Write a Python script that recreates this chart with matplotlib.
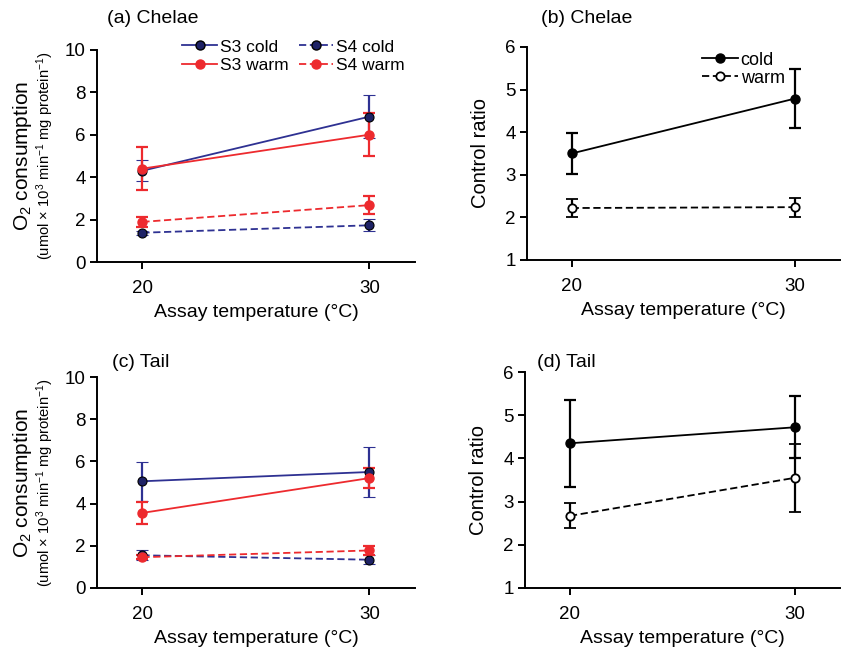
import matplotlib
matplotlib.use("Agg")
import matplotlib.pyplot as plt
from matplotlib.lines import Line2D

plt.rcParams['font.family'] = ['Liberation Sans', 'DejaVu Sans']
plt.rcParams['mathtext.fontset'] = 'custom'
plt.rcParams['mathtext.rm'] = 'Liberation Sans'
plt.rcParams['mathtext.default'] = 'regular'

# data
temps = [20, 30]

# (a) chelae O2 consumption
chel_s3_cold = [4.3, 6.85]
chel_s3_cold_err = [0.5, 1.0]
chel_s3_warm = [4.4, 6.0]
chel_s3_warm_err = [1.0, 1.02]
chel_s4_cold = [1.38, 1.73]
chel_s4_cold_err = [0.1, 0.28]
chel_s4_warm = [1.89, 2.68]
chel_s4_warm_err = [0.24, 0.42]

# (b) chelae control ratio
chel_rcr_cold = [3.5, 4.79]
chel_rcr_cold_err = [0.49, 0.7]
chel_rcr_warm = [2.22, 2.24]
chel_rcr_warm_err = [0.22, 0.22]

# (c) tail O2 consumption
tail_s3_cold = [5.06, 5.5]
tail_s3_cold_err = [0.92, 1.2]
tail_s3_warm = [3.56, 5.21]
tail_s3_warm_err = [0.53, 0.48]
tail_s4_cold = [1.55, 1.34]
tail_s4_cold_err = [0.24, 0.22]
tail_s4_warm = [1.46, 1.78]
tail_s4_warm_err = [0.1, 0.2]

# (d) tail control ratio
tail_rcr_cold = [4.35, 4.72]
tail_rcr_cold_err = [1.01, 0.72]
tail_rcr_warm = [2.67, 3.55]
tail_rcr_warm_err = [0.29, 0.79]

blue = '#2e3192'
red = '#ed2a2e'
dash = (0, (4, 2))


def style(ax, ylim, yticks):
    ax.set_xlim(18, 32)
    ax.set_ylim(*ylim)
    ax.set_xticks(temps)
    ax.set_yticks(yticks)
    for s in ['top', 'right']:
        ax.spines[s].set_visible(False)
    for s in ['left', 'bottom']:
        ax.spines[s].set_linewidth(1.4)
    ax.tick_params(direction='out', length=5, width=1.4, labelsize=13.5, pad=3)
    ax.tick_params(axis='x', pad=8)
    ax.set_xlabel('Assay temperature (°C)', fontsize=14, labelpad=5)


def o2_panel(ax, s3c, s3ce, s3w, s3we, s4c, s4ce, s4w, s4we):
    kw = dict(capsize=4, capthick=1.6, elinewidth=1.6, lw=1.3, ms=6.5)
    ax.errorbar(temps, s3c, yerr=s3ce, color=blue, marker='o', mfc='#1e2266', mec='black', mew=0.8, **kw)
    ax.errorbar(temps, s4c, yerr=s4ce, color=blue, marker='o', mfc='#1e2266', mec='black', mew=0.8, ls=dash, **kw)
    ax.errorbar(temps, s3w, yerr=s3we, color=red, marker='o', mfc=red, mec=red, **kw)
    ax.errorbar(temps, s4w, yerr=s4we, color=red, marker='o', mfc=red, mec=red, ls=dash, **kw)
    style(ax, (0, 10), [0, 2, 4, 6, 8, 10])
    ax.text(-0.234, 0.5, 'O$_2$ consumption', rotation=90, fontsize=15,
            transform=ax.transAxes, ha='center', va='center')
    ax.text(-0.163, 0.5, r'(umol $\times$ 10$^3$ min$^{-1}$ mg protein$^{-1}$)', rotation=90,
            fontsize=10.6, transform=ax.transAxes, ha='center', va='center')


def rcr_panel(ax, cold, cold_err, warm, warm_err):
    kw = dict(capsize=4, capthick=1.6, elinewidth=1.6, lw=1.3, color='black')
    ax.errorbar(temps, cold, yerr=cold_err, marker='o', ms=6.5, mfc='black', **kw)
    ax.errorbar(temps, warm, yerr=warm_err, marker='o', ms=6, mfc='white', mew=1.3, ls=dash, **kw)
    style(ax, (1, 6), [1, 2, 3, 4, 5, 6])
    ax.set_ylabel('Control ratio', fontsize=14.5, labelpad=11)


fig = plt.figure(figsize=(8.41, 6.49), dpi=100)
ax_a = fig.add_axes([0.1153, 0.5963, 0.378, 0.327])
ax_b = fig.add_axes([0.6266, 0.5994, 0.372, 0.3282])
ax_c = fig.add_axes([0.1153, 0.094, 0.378, 0.325])
ax_d = fig.add_axes([0.6243, 0.094, 0.374, 0.3328])

o2_panel(ax_a, chel_s3_cold, chel_s3_cold_err, chel_s3_warm, chel_s3_warm_err,
         chel_s4_cold, chel_s4_cold_err, chel_s4_warm, chel_s4_warm_err)
o2_panel(ax_c, tail_s3_cold, tail_s3_cold_err, tail_s3_warm, tail_s3_warm_err,
         tail_s4_cold, tail_s4_cold_err, tail_s4_warm, tail_s4_warm_err)
rcr_panel(ax_b, chel_rcr_cold, chel_rcr_cold_err, chel_rcr_warm, chel_rcr_warm_err)
rcr_panel(ax_d, tail_rcr_cold, tail_rcr_cold_err, tail_rcr_warm, tail_rcr_warm_err)

fig.text(0.127, 0.972, '(a) Chelae', fontsize=14, va='center')
fig.text(0.643, 0.972, '(b) Chelae', fontsize=14, va='center')
fig.text(0.133, 0.441, '(c) Tail', fontsize=14, va='center')
fig.text(0.638, 0.441, '(d) Tail', fontsize=14, va='center')

h_o2 = [
    Line2D([], [], color=blue, marker='o', mfc='#1e2266', mec='black', ms=6.5, lw=1.3),
    Line2D([], [], color=red, marker='o', mfc=red, mec=red, ms=6.5, lw=1.3),
    Line2D([], [], color=blue, marker='o', mfc='#1e2266', mec='black', ms=6.5, lw=1.3, ls=dash),
    Line2D([], [], color=red, marker='o', mfc=red, mec=red, ms=6.5, lw=1.3, ls=dash),
]
ax_a.legend(h_o2, ['S3 cold', 'S3 warm', 'S4 cold', 'S4 warm'], ncol=2, frameon=False,
            fontsize=12.5, loc='upper right', bbox_to_anchor=(0.995, 1.09),
            handlelength=2.0, handletextpad=0.15, columnspacing=0.6, labelspacing=0.2,
            borderpad=0)

h_rcr = [
    Line2D([], [], color='black', marker='o', ms=6.5, lw=1.3),
    Line2D([], [], color='black', marker='o', mfc='white', ms=6, mew=1.3, lw=1.3, ls=dash),
]
ax_b.legend(h_rcr, ['cold', 'warm'], frameon=False, fontsize=13, loc='upper left',
            bbox_to_anchor=(0.53, 1.02), handlelength=2.0, handletextpad=0.15,
            labelspacing=0.05, borderpad=0)

fig.savefig('out.png', dpi=100)
